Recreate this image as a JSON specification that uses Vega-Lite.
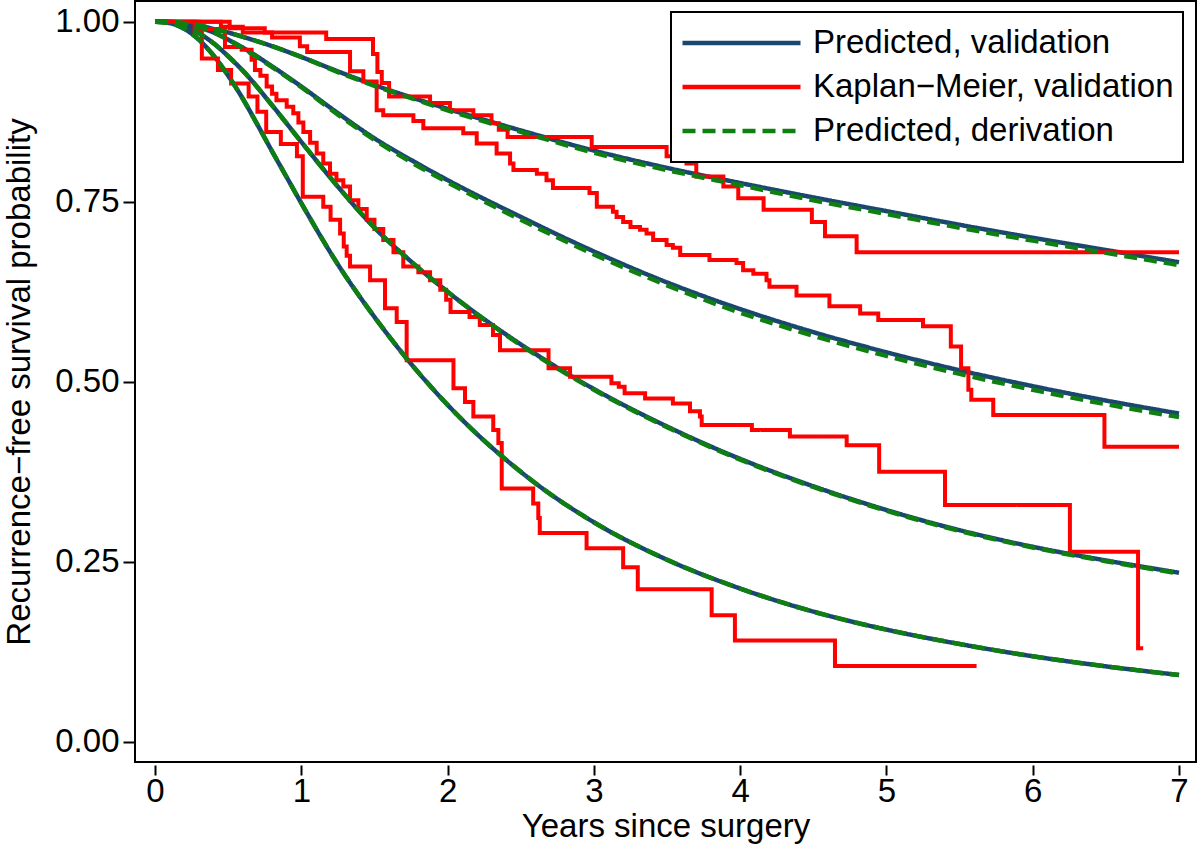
{
  "$schema": "https://vega.github.io/schema/vega-lite/v6.json",
  "width": 1061,
  "height": 761,
  "autosize": {"type": "none"},
  "padding": {"left": 135, "top": 1, "right": 4, "bottom": 85},
  "background": "white",
  "config": {
    "view": {"stroke": "black", "strokeWidth": 2},
    "axis": {"domain": false, "grid": false, "labelFont": "Liberation Sans", "labelFontSize": 33, "labelColor": "black", "tickColor": "black", "tickWidth": 2, "titleFont": "Liberation Sans", "titleFontSize": 33, "titleFontWeight": "normal", "titleColor": "black"}
  },
  "datasets": {
    "pv": [
      {"series": "Predicted, validation", "g": "A", "t": 0, "s": 1}, {"series": "Predicted, validation", "g": "A", "t": 0.1, "s": 1}, {"series": "Predicted, validation", "g": "A", "t": 0.2, "s": 0.998}, {"series": "Predicted, validation", "g": "A", "t": 0.3, "s": 0.995}, {"series": "Predicted, validation", "g": "A", "t": 0.4, "s": 0.99}, {"series": "Predicted, validation", "g": "A", "t": 0.5, "s": 0.985}, {"series": "Predicted, validation", "g": "A", "t": 0.6, "s": 0.979}, {"series": "Predicted, validation", "g": "A", "t": 0.8, "s": 0.966}, {"series": "Predicted, validation", "g": "A", "t": 1.0, "s": 0.951}, {"series": "Predicted, validation", "g": "A", "t": 1.25, "s": 0.931}, {"series": "Predicted, validation", "g": "A", "t": 1.5, "s": 0.912}, {"series": "Predicted, validation", "g": "A", "t": 1.75, "s": 0.895}, {"series": "Predicted, validation", "g": "A", "t": 2.0, "s": 0.879}, {"series": "Predicted, validation", "g": "A", "t": 2.5, "s": 0.849}, {"series": "Predicted, validation", "g": "A", "t": 3.0, "s": 0.821}, {"series": "Predicted, validation", "g": "A", "t": 3.5, "s": 0.797}, {"series": "Predicted, validation", "g": "A", "t": 4.0, "s": 0.776}, {"series": "Predicted, validation", "g": "A", "t": 4.5, "s": 0.756}, {"series": "Predicted, validation", "g": "A", "t": 5.0, "s": 0.737}, {"series": "Predicted, validation", "g": "A", "t": 5.5, "s": 0.718}, {"series": "Predicted, validation", "g": "A", "t": 6.0, "s": 0.7}, {"series": "Predicted, validation", "g": "A", "t": 6.5, "s": 0.683}, {"series": "Predicted, validation", "g": "A", "t": 7.0, "s": 0.666},
      {"series": "Predicted, validation", "g": "B", "t": 0, "s": 1}, {"series": "Predicted, validation", "g": "B", "t": 0.1, "s": 0.9995}, {"series": "Predicted, validation", "g": "B", "t": 0.2, "s": 0.997}, {"series": "Predicted, validation", "g": "B", "t": 0.3, "s": 0.992}, {"series": "Predicted, validation", "g": "B", "t": 0.4, "s": 0.985}, {"series": "Predicted, validation", "g": "B", "t": 0.5, "s": 0.975}, {"series": "Predicted, validation", "g": "B", "t": 0.6, "s": 0.964}, {"series": "Predicted, validation", "g": "B", "t": 0.8, "s": 0.938}, {"series": "Predicted, validation", "g": "B", "t": 1.0, "s": 0.91}, {"series": "Predicted, validation", "g": "B", "t": 1.25, "s": 0.873}, {"series": "Predicted, validation", "g": "B", "t": 1.5, "s": 0.838}, {"series": "Predicted, validation", "g": "B", "t": 1.75, "s": 0.808}, {"series": "Predicted, validation", "g": "B", "t": 2.0, "s": 0.78}, {"series": "Predicted, validation", "g": "B", "t": 2.5, "s": 0.729}, {"series": "Predicted, validation", "g": "B", "t": 3.0, "s": 0.681}, {"series": "Predicted, validation", "g": "B", "t": 3.5, "s": 0.638}, {"series": "Predicted, validation", "g": "B", "t": 4.0, "s": 0.601}, {"series": "Predicted, validation", "g": "B", "t": 4.5, "s": 0.569}, {"series": "Predicted, validation", "g": "B", "t": 5.0, "s": 0.541}, {"series": "Predicted, validation", "g": "B", "t": 5.5, "s": 0.516}, {"series": "Predicted, validation", "g": "B", "t": 6.0, "s": 0.494}, {"series": "Predicted, validation", "g": "B", "t": 6.5, "s": 0.474}, {"series": "Predicted, validation", "g": "B", "t": 7.0, "s": 0.456},
      {"series": "Predicted, validation", "g": "C", "t": 0, "s": 1}, {"series": "Predicted, validation", "g": "C", "t": 0.1, "s": 0.999}, {"series": "Predicted, validation", "g": "C", "t": 0.2, "s": 0.994}, {"series": "Predicted, validation", "g": "C", "t": 0.3, "s": 0.984}, {"series": "Predicted, validation", "g": "C", "t": 0.4, "s": 0.97}, {"series": "Predicted, validation", "g": "C", "t": 0.5, "s": 0.952}, {"series": "Predicted, validation", "g": "C", "t": 0.6, "s": 0.932}, {"series": "Predicted, validation", "g": "C", "t": 0.8, "s": 0.884}, {"series": "Predicted, validation", "g": "C", "t": 1.0, "s": 0.833}, {"series": "Predicted, validation", "g": "C", "t": 1.25, "s": 0.771}, {"series": "Predicted, validation", "g": "C", "t": 1.5, "s": 0.714}, {"series": "Predicted, validation", "g": "C", "t": 1.75, "s": 0.667}, {"series": "Predicted, validation", "g": "C", "t": 2.0, "s": 0.625}, {"series": "Predicted, validation", "g": "C", "t": 2.5, "s": 0.552}, {"series": "Predicted, validation", "g": "C", "t": 3.0, "s": 0.49}, {"series": "Predicted, validation", "g": "C", "t": 3.5, "s": 0.438}, {"series": "Predicted, validation", "g": "C", "t": 4.0, "s": 0.393}, {"series": "Predicted, validation", "g": "C", "t": 4.5, "s": 0.355}, {"series": "Predicted, validation", "g": "C", "t": 5.0, "s": 0.322}, {"series": "Predicted, validation", "g": "C", "t": 5.5, "s": 0.294}, {"series": "Predicted, validation", "g": "C", "t": 6.0, "s": 0.271}, {"series": "Predicted, validation", "g": "C", "t": 6.5, "s": 0.252}, {"series": "Predicted, validation", "g": "C", "t": 7.0, "s": 0.235},
      {"series": "Predicted, validation", "g": "D", "t": 0, "s": 1}, {"series": "Predicted, validation", "g": "D", "t": 0.1, "s": 0.998}, {"series": "Predicted, validation", "g": "D", "t": 0.2, "s": 0.99}, {"series": "Predicted, validation", "g": "D", "t": 0.3, "s": 0.975}, {"series": "Predicted, validation", "g": "D", "t": 0.4, "s": 0.953}, {"series": "Predicted, validation", "g": "D", "t": 0.5, "s": 0.925}, {"series": "Predicted, validation", "g": "D", "t": 0.6, "s": 0.893}, {"series": "Predicted, validation", "g": "D", "t": 0.7, "s": 0.857}, {"series": "Predicted, validation", "g": "D", "t": 0.8, "s": 0.82}, {"series": "Predicted, validation", "g": "D", "t": 0.9, "s": 0.784}, {"series": "Predicted, validation", "g": "D", "t": 1.0, "s": 0.748}, {"series": "Predicted, validation", "g": "D", "t": 1.25, "s": 0.663}, {"series": "Predicted, validation", "g": "D", "t": 1.5, "s": 0.59}, {"series": "Predicted, validation", "g": "D", "t": 1.75, "s": 0.525}, {"series": "Predicted, validation", "g": "D", "t": 2.0, "s": 0.468}, {"series": "Predicted, validation", "g": "D", "t": 2.5, "s": 0.375}, {"series": "Predicted, validation", "g": "D", "t": 3.0, "s": 0.305}, {"series": "Predicted, validation", "g": "D", "t": 3.5, "s": 0.253}, {"series": "Predicted, validation", "g": "D", "t": 4.0, "s": 0.213}, {"series": "Predicted, validation", "g": "D", "t": 4.5, "s": 0.181}, {"series": "Predicted, validation", "g": "D", "t": 5.0, "s": 0.156}, {"series": "Predicted, validation", "g": "D", "t": 5.5, "s": 0.136}, {"series": "Predicted, validation", "g": "D", "t": 6.0, "s": 0.119}, {"series": "Predicted, validation", "g": "D", "t": 6.5, "s": 0.105}, {"series": "Predicted, validation", "g": "D", "t": 7.0, "s": 0.093}
    ],
    "pd": [
      {"series": "Predicted, derivation", "g": "A", "t": 0, "s": 1}, {"series": "Predicted, derivation", "g": "A", "t": 0.1, "s": 1}, {"series": "Predicted, derivation", "g": "A", "t": 0.2, "s": 0.998}, {"series": "Predicted, derivation", "g": "A", "t": 0.3, "s": 0.995}, {"series": "Predicted, derivation", "g": "A", "t": 0.4, "s": 0.99}, {"series": "Predicted, derivation", "g": "A", "t": 0.5, "s": 0.985}, {"series": "Predicted, derivation", "g": "A", "t": 0.6, "s": 0.979}, {"series": "Predicted, derivation", "g": "A", "t": 0.8, "s": 0.966}, {"series": "Predicted, derivation", "g": "A", "t": 1.0, "s": 0.951}, {"series": "Predicted, derivation", "g": "A", "t": 1.25, "s": 0.93}, {"series": "Predicted, derivation", "g": "A", "t": 1.5, "s": 0.911}, {"series": "Predicted, derivation", "g": "A", "t": 1.75, "s": 0.894}, {"series": "Predicted, derivation", "g": "A", "t": 2.0, "s": 0.877}, {"series": "Predicted, derivation", "g": "A", "t": 2.5, "s": 0.847}, {"series": "Predicted, derivation", "g": "A", "t": 3.0, "s": 0.818}, {"series": "Predicted, derivation", "g": "A", "t": 3.5, "s": 0.794}, {"series": "Predicted, derivation", "g": "A", "t": 4.0, "s": 0.773}, {"series": "Predicted, derivation", "g": "A", "t": 4.5, "s": 0.752}, {"series": "Predicted, derivation", "g": "A", "t": 5.0, "s": 0.733}, {"series": "Predicted, derivation", "g": "A", "t": 5.5, "s": 0.714}, {"series": "Predicted, derivation", "g": "A", "t": 6.0, "s": 0.696}, {"series": "Predicted, derivation", "g": "A", "t": 6.5, "s": 0.679}, {"series": "Predicted, derivation", "g": "A", "t": 7.0, "s": 0.662},
      {"series": "Predicted, derivation", "g": "B", "t": 0, "s": 1}, {"series": "Predicted, derivation", "g": "B", "t": 0.1, "s": 0.9995}, {"series": "Predicted, derivation", "g": "B", "t": 0.2, "s": 0.997}, {"series": "Predicted, derivation", "g": "B", "t": 0.3, "s": 0.992}, {"series": "Predicted, derivation", "g": "B", "t": 0.4, "s": 0.985}, {"series": "Predicted, derivation", "g": "B", "t": 0.5, "s": 0.975}, {"series": "Predicted, derivation", "g": "B", "t": 0.6, "s": 0.963}, {"series": "Predicted, derivation", "g": "B", "t": 0.8, "s": 0.937}, {"series": "Predicted, derivation", "g": "B", "t": 1.0, "s": 0.909}, {"series": "Predicted, derivation", "g": "B", "t": 1.25, "s": 0.871}, {"series": "Predicted, derivation", "g": "B", "t": 1.5, "s": 0.836}, {"series": "Predicted, derivation", "g": "B", "t": 1.75, "s": 0.805}, {"series": "Predicted, derivation", "g": "B", "t": 2.0, "s": 0.777}, {"series": "Predicted, derivation", "g": "B", "t": 2.5, "s": 0.725}, {"series": "Predicted, derivation", "g": "B", "t": 3.0, "s": 0.677}, {"series": "Predicted, derivation", "g": "B", "t": 3.5, "s": 0.634}, {"series": "Predicted, derivation", "g": "B", "t": 4.0, "s": 0.596}, {"series": "Predicted, derivation", "g": "B", "t": 4.5, "s": 0.564}, {"series": "Predicted, derivation", "g": "B", "t": 5.0, "s": 0.536}, {"series": "Predicted, derivation", "g": "B", "t": 5.5, "s": 0.511}, {"series": "Predicted, derivation", "g": "B", "t": 6.0, "s": 0.489}, {"series": "Predicted, derivation", "g": "B", "t": 6.5, "s": 0.469}, {"series": "Predicted, derivation", "g": "B", "t": 7.0, "s": 0.451},
      {"series": "Predicted, derivation", "g": "C", "t": 0, "s": 1}, {"series": "Predicted, derivation", "g": "C", "t": 0.1, "s": 0.999}, {"series": "Predicted, derivation", "g": "C", "t": 0.2, "s": 0.994}, {"series": "Predicted, derivation", "g": "C", "t": 0.3, "s": 0.984}, {"series": "Predicted, derivation", "g": "C", "t": 0.4, "s": 0.97}, {"series": "Predicted, derivation", "g": "C", "t": 0.5, "s": 0.952}, {"series": "Predicted, derivation", "g": "C", "t": 0.6, "s": 0.932}, {"series": "Predicted, derivation", "g": "C", "t": 0.8, "s": 0.884}, {"series": "Predicted, derivation", "g": "C", "t": 1.0, "s": 0.833}, {"series": "Predicted, derivation", "g": "C", "t": 1.25, "s": 0.771}, {"series": "Predicted, derivation", "g": "C", "t": 1.5, "s": 0.714}, {"series": "Predicted, derivation", "g": "C", "t": 1.75, "s": 0.667}, {"series": "Predicted, derivation", "g": "C", "t": 2.0, "s": 0.625}, {"series": "Predicted, derivation", "g": "C", "t": 2.5, "s": 0.551}, {"series": "Predicted, derivation", "g": "C", "t": 3.0, "s": 0.489}, {"series": "Predicted, derivation", "g": "C", "t": 3.5, "s": 0.437}, {"series": "Predicted, derivation", "g": "C", "t": 4.0, "s": 0.392}, {"series": "Predicted, derivation", "g": "C", "t": 4.5, "s": 0.354}, {"series": "Predicted, derivation", "g": "C", "t": 5.0, "s": 0.321}, {"series": "Predicted, derivation", "g": "C", "t": 5.5, "s": 0.293}, {"series": "Predicted, derivation", "g": "C", "t": 6.0, "s": 0.27}, {"series": "Predicted, derivation", "g": "C", "t": 6.5, "s": 0.251}, {"series": "Predicted, derivation", "g": "C", "t": 7.0, "s": 0.234},
      {"series": "Predicted, derivation", "g": "D", "t": 0, "s": 1}, {"series": "Predicted, derivation", "g": "D", "t": 0.1, "s": 0.998}, {"series": "Predicted, derivation", "g": "D", "t": 0.2, "s": 0.99}, {"series": "Predicted, derivation", "g": "D", "t": 0.3, "s": 0.975}, {"series": "Predicted, derivation", "g": "D", "t": 0.4, "s": 0.953}, {"series": "Predicted, derivation", "g": "D", "t": 0.5, "s": 0.925}, {"series": "Predicted, derivation", "g": "D", "t": 0.6, "s": 0.893}, {"series": "Predicted, derivation", "g": "D", "t": 0.7, "s": 0.857}, {"series": "Predicted, derivation", "g": "D", "t": 0.8, "s": 0.82}, {"series": "Predicted, derivation", "g": "D", "t": 0.9, "s": 0.784}, {"series": "Predicted, derivation", "g": "D", "t": 1.0, "s": 0.748}, {"series": "Predicted, derivation", "g": "D", "t": 1.25, "s": 0.663}, {"series": "Predicted, derivation", "g": "D", "t": 1.5, "s": 0.59}, {"series": "Predicted, derivation", "g": "D", "t": 1.75, "s": 0.525}, {"series": "Predicted, derivation", "g": "D", "t": 2.0, "s": 0.468}, {"series": "Predicted, derivation", "g": "D", "t": 2.5, "s": 0.375}, {"series": "Predicted, derivation", "g": "D", "t": 3.0, "s": 0.305}, {"series": "Predicted, derivation", "g": "D", "t": 3.5, "s": 0.253}, {"series": "Predicted, derivation", "g": "D", "t": 4.0, "s": 0.213}, {"series": "Predicted, derivation", "g": "D", "t": 4.5, "s": 0.181}, {"series": "Predicted, derivation", "g": "D", "t": 5.0, "s": 0.156}, {"series": "Predicted, derivation", "g": "D", "t": 5.5, "s": 0.136}, {"series": "Predicted, derivation", "g": "D", "t": 6.0, "s": 0.119}, {"series": "Predicted, derivation", "g": "D", "t": 6.5, "s": 0.105}, {"series": "Predicted, derivation", "g": "D", "t": 7.0, "s": 0.093}
    ],
    "km": [
      {"series": "Kaplan−Meier, validation", "g": "1", "t": 0, "s": 1}, {"series": "Kaplan−Meier, validation", "g": "1", "t": 0.51, "s": 0.991}, {"series": "Kaplan−Meier, validation", "g": "1", "t": 0.75, "s": 0.985}, {"series": "Kaplan−Meier, validation", "g": "1", "t": 1.17, "s": 0.976}, {"series": "Kaplan−Meier, validation", "g": "1", "t": 1.49, "s": 0.955}, {"series": "Kaplan−Meier, validation", "g": "1", "t": 1.52, "s": 0.93}, {"series": "Kaplan−Meier, validation", "g": "1", "t": 1.55, "s": 0.915}, {"series": "Kaplan−Meier, validation", "g": "1", "t": 1.6, "s": 0.896}, {"series": "Kaplan−Meier, validation", "g": "1", "t": 1.88, "s": 0.887}, {"series": "Kaplan−Meier, validation", "g": "1", "t": 2.016, "s": 0.877}, {"series": "Kaplan−Meier, validation", "g": "1", "t": 2.176, "s": 0.87}, {"series": "Kaplan−Meier, validation", "g": "1", "t": 2.3, "s": 0.859}, {"series": "Kaplan−Meier, validation", "g": "1", "t": 2.35, "s": 0.85}, {"series": "Kaplan−Meier, validation", "g": "1", "t": 2.41, "s": 0.84}, {"series": "Kaplan−Meier, validation", "g": "1", "t": 2.985, "s": 0.826}, {"series": "Kaplan−Meier, validation", "g": "1", "t": 3.497, "s": 0.813}, {"series": "Kaplan−Meier, validation", "g": "1", "t": 3.633, "s": 0.803}, {"series": "Kaplan−Meier, validation", "g": "1", "t": 3.7, "s": 0.785}, {"series": "Kaplan−Meier, validation", "g": "1", "t": 3.885, "s": 0.771}, {"series": "Kaplan−Meier, validation", "g": "1", "t": 3.987, "s": 0.755}, {"series": "Kaplan−Meier, validation", "g": "1", "t": 4.16, "s": 0.739}, {"series": "Kaplan−Meier, validation", "g": "1", "t": 4.49, "s": 0.722}, {"series": "Kaplan−Meier, validation", "g": "1", "t": 4.58, "s": 0.702}, {"series": "Kaplan−Meier, validation", "g": "1", "t": 4.796, "s": 0.68}, {"series": "Kaplan−Meier, validation", "g": "1", "t": 7.0, "s": 0.68},
      {"series": "Kaplan−Meier, validation", "g": "2", "t": 0, "s": 1}, {"series": "Kaplan−Meier, validation", "g": "2", "t": 0.45, "s": 0.993}, {"series": "Kaplan−Meier, validation", "g": "2", "t": 0.6, "s": 0.985}, {"series": "Kaplan−Meier, validation", "g": "2", "t": 0.8, "s": 0.978}, {"series": "Kaplan−Meier, validation", "g": "2", "t": 0.99, "s": 0.966}, {"series": "Kaplan−Meier, validation", "g": "2", "t": 1.04, "s": 0.958}, {"series": "Kaplan−Meier, validation", "g": "2", "t": 1.333, "s": 0.931}, {"series": "Kaplan−Meier, validation", "g": "2", "t": 1.424, "s": 0.917}, {"series": "Kaplan−Meier, validation", "g": "2", "t": 1.515, "s": 0.877}, {"series": "Kaplan−Meier, validation", "g": "2", "t": 1.56, "s": 0.87}, {"series": "Kaplan−Meier, validation", "g": "2", "t": 1.766, "s": 0.862}, {"series": "Kaplan−Meier, validation", "g": "2", "t": 1.834, "s": 0.852}, {"series": "Kaplan−Meier, validation", "g": "2", "t": 2.107, "s": 0.845}, {"series": "Kaplan−Meier, validation", "g": "2", "t": 2.199, "s": 0.831}, {"series": "Kaplan−Meier, validation", "g": "2", "t": 2.335, "s": 0.817}, {"series": "Kaplan−Meier, validation", "g": "2", "t": 2.427, "s": 0.803}, {"series": "Kaplan−Meier, validation", "g": "2", "t": 2.45, "s": 0.794}, {"series": "Kaplan−Meier, validation", "g": "2", "t": 2.61, "s": 0.789}, {"series": "Kaplan−Meier, validation", "g": "2", "t": 2.676, "s": 0.78}, {"series": "Kaplan−Meier, validation", "g": "2", "t": 2.72, "s": 0.769}, {"series": "Kaplan−Meier, validation", "g": "2", "t": 2.97, "s": 0.762}, {"series": "Kaplan−Meier, validation", "g": "2", "t": 3.02, "s": 0.743}, {"series": "Kaplan−Meier, validation", "g": "2", "t": 3.13, "s": 0.736}, {"series": "Kaplan−Meier, validation", "g": "2", "t": 3.155, "s": 0.729}, {"series": "Kaplan−Meier, validation", "g": "2", "t": 3.2, "s": 0.722}, {"series": "Kaplan−Meier, validation", "g": "2", "t": 3.25, "s": 0.715}, {"series": "Kaplan−Meier, validation", "g": "2", "t": 3.315, "s": 0.711}, {"series": "Kaplan−Meier, validation", "g": "2", "t": 3.36, "s": 0.706}, {"series": "Kaplan−Meier, validation", "g": "2", "t": 3.405, "s": 0.697}, {"series": "Kaplan−Meier, validation", "g": "2", "t": 3.497, "s": 0.69}, {"series": "Kaplan−Meier, validation", "g": "2", "t": 3.54, "s": 0.686}, {"series": "Kaplan−Meier, validation", "g": "2", "t": 3.59, "s": 0.676}, {"series": "Kaplan−Meier, validation", "g": "2", "t": 3.79, "s": 0.669}, {"series": "Kaplan−Meier, validation", "g": "2", "t": 3.975, "s": 0.665}, {"series": "Kaplan−Meier, validation", "g": "2", "t": 4.02, "s": 0.655}, {"series": "Kaplan−Meier, validation", "g": "2", "t": 4.09, "s": 0.65}, {"series": "Kaplan−Meier, validation", "g": "2", "t": 4.18, "s": 0.641}, {"series": "Kaplan−Meier, validation", "g": "2", "t": 4.2, "s": 0.632}, {"series": "Kaplan−Meier, validation", "g": "2", "t": 4.385, "s": 0.62}, {"series": "Kaplan−Meier, validation", "g": "2", "t": 4.61, "s": 0.605}, {"series": "Kaplan−Meier, validation", "g": "2", "t": 4.82, "s": 0.595}, {"series": "Kaplan−Meier, validation", "g": "2", "t": 4.944, "s": 0.586}, {"series": "Kaplan−Meier, validation", "g": "2", "t": 5.25, "s": 0.577}, {"series": "Kaplan−Meier, validation", "g": "2", "t": 5.44, "s": 0.549}, {"series": "Kaplan−Meier, validation", "g": "2", "t": 5.51, "s": 0.519}, {"series": "Kaplan−Meier, validation", "g": "2", "t": 5.56, "s": 0.489}, {"series": "Kaplan−Meier, validation", "g": "2", "t": 5.58, "s": 0.475}, {"series": "Kaplan−Meier, validation", "g": "2", "t": 5.73, "s": 0.454}, {"series": "Kaplan−Meier, validation", "g": "2", "t": 6.49, "s": 0.41}, {"series": "Kaplan−Meier, validation", "g": "2", "t": 7.0, "s": 0.41},
      {"series": "Kaplan−Meier, validation", "g": "3", "t": 0, "s": 1}, {"series": "Kaplan−Meier, validation", "g": "3", "t": 0.3, "s": 0.99}, {"series": "Kaplan−Meier, validation", "g": "3", "t": 0.478, "s": 0.965}, {"series": "Kaplan−Meier, validation", "g": "3", "t": 0.592, "s": 0.961}, {"series": "Kaplan−Meier, validation", "g": "3", "t": 0.66, "s": 0.947}, {"series": "Kaplan−Meier, validation", "g": "3", "t": 0.683, "s": 0.933}, {"series": "Kaplan−Meier, validation", "g": "3", "t": 0.72, "s": 0.925}, {"series": "Kaplan−Meier, validation", "g": "3", "t": 0.763, "s": 0.91}, {"series": "Kaplan−Meier, validation", "g": "3", "t": 0.8, "s": 0.9}, {"series": "Kaplan−Meier, validation", "g": "3", "t": 0.83, "s": 0.891}, {"series": "Kaplan−Meier, validation", "g": "3", "t": 0.9, "s": 0.882}, {"series": "Kaplan−Meier, validation", "g": "3", "t": 0.945, "s": 0.873}, {"series": "Kaplan−Meier, validation", "g": "3", "t": 0.98, "s": 0.86}, {"series": "Kaplan−Meier, validation", "g": "3", "t": 1.014, "s": 0.847}, {"series": "Kaplan−Meier, validation", "g": "3", "t": 1.06, "s": 0.832}, {"series": "Kaplan−Meier, validation", "g": "3", "t": 1.105, "s": 0.817}, {"series": "Kaplan−Meier, validation", "g": "3", "t": 1.15, "s": 0.803}, {"series": "Kaplan−Meier, validation", "g": "3", "t": 1.196, "s": 0.789}, {"series": "Kaplan−Meier, validation", "g": "3", "t": 1.24, "s": 0.78}, {"series": "Kaplan−Meier, validation", "g": "3", "t": 1.287, "s": 0.771}, {"series": "Kaplan−Meier, validation", "g": "3", "t": 1.333, "s": 0.752}, {"series": "Kaplan−Meier, validation", "g": "3", "t": 1.39, "s": 0.74}, {"series": "Kaplan−Meier, validation", "g": "3", "t": 1.447, "s": 0.725}, {"series": "Kaplan−Meier, validation", "g": "3", "t": 1.5, "s": 0.712}, {"series": "Kaplan−Meier, validation", "g": "3", "t": 1.56, "s": 0.697}, {"series": "Kaplan−Meier, validation", "g": "3", "t": 1.63, "s": 0.68}, {"series": "Kaplan−Meier, validation", "g": "3", "t": 1.697, "s": 0.66}, {"series": "Kaplan−Meier, validation", "g": "3", "t": 1.8, "s": 0.652}, {"series": "Kaplan−Meier, validation", "g": "3", "t": 1.88, "s": 0.641}, {"series": "Kaplan−Meier, validation", "g": "3", "t": 1.95, "s": 0.628}, {"series": "Kaplan−Meier, validation", "g": "3", "t": 1.99, "s": 0.614}, {"series": "Kaplan−Meier, validation", "g": "3", "t": 2.02, "s": 0.597}, {"series": "Kaplan−Meier, validation", "g": "3", "t": 2.15, "s": 0.59}, {"series": "Kaplan−Meier, validation", "g": "3", "t": 2.22, "s": 0.579}, {"series": "Kaplan−Meier, validation", "g": "3", "t": 2.31, "s": 0.565}, {"series": "Kaplan−Meier, validation", "g": "3", "t": 2.358, "s": 0.544}, {"series": "Kaplan−Meier, validation", "g": "3", "t": 2.69, "s": 0.519}, {"series": "Kaplan−Meier, validation", "g": "3", "t": 2.837, "s": 0.507}, {"series": "Kaplan−Meier, validation", "g": "3", "t": 3.12, "s": 0.498}, {"series": "Kaplan−Meier, validation", "g": "3", "t": 3.17, "s": 0.493}, {"series": "Kaplan−Meier, validation", "g": "3", "t": 3.21, "s": 0.484}, {"series": "Kaplan−Meier, validation", "g": "3", "t": 3.35, "s": 0.477}, {"series": "Kaplan−Meier, validation", "g": "3", "t": 3.54, "s": 0.47}, {"series": "Kaplan−Meier, validation", "g": "3", "t": 3.657, "s": 0.459}, {"series": "Kaplan−Meier, validation", "g": "3", "t": 3.725, "s": 0.452}, {"series": "Kaplan−Meier, validation", "g": "3", "t": 3.737, "s": 0.44}, {"series": "Kaplan−Meier, validation", "g": "3", "t": 4.08, "s": 0.433}, {"series": "Kaplan−Meier, validation", "g": "3", "t": 4.34, "s": 0.424}, {"series": "Kaplan−Meier, validation", "g": "3", "t": 4.728, "s": 0.412}, {"series": "Kaplan−Meier, validation", "g": "3", "t": 4.95, "s": 0.375}, {"series": "Kaplan−Meier, validation", "g": "3", "t": 5.4, "s": 0.329}, {"series": "Kaplan−Meier, validation", "g": "3", "t": 6.254, "s": 0.264}, {"series": "Kaplan−Meier, validation", "g": "3", "t": 6.72, "s": 0.13}, {"series": "Kaplan−Meier, validation", "g": "3", "t": 6.755, "s": 0.13},
      {"series": "Kaplan−Meier, validation", "g": "4", "t": 0, "s": 1}, {"series": "Kaplan−Meier, validation", "g": "4", "t": 0.27, "s": 0.985}, {"series": "Kaplan−Meier, validation", "g": "4", "t": 0.32, "s": 0.949}, {"series": "Kaplan−Meier, validation", "g": "4", "t": 0.43, "s": 0.933}, {"series": "Kaplan−Meier, validation", "g": "4", "t": 0.52, "s": 0.914}, {"series": "Kaplan−Meier, validation", "g": "4", "t": 0.64, "s": 0.896}, {"series": "Kaplan−Meier, validation", "g": "4", "t": 0.7, "s": 0.875}, {"series": "Kaplan−Meier, validation", "g": "4", "t": 0.76, "s": 0.847}, {"series": "Kaplan−Meier, validation", "g": "4", "t": 0.86, "s": 0.83}, {"series": "Kaplan−Meier, validation", "g": "4", "t": 0.97, "s": 0.813}, {"series": "Kaplan−Meier, validation", "g": "4", "t": 1.01, "s": 0.757}, {"series": "Kaplan−Meier, validation", "g": "4", "t": 1.15, "s": 0.743}, {"series": "Kaplan−Meier, validation", "g": "4", "t": 1.2, "s": 0.725}, {"series": "Kaplan−Meier, validation", "g": "4", "t": 1.265, "s": 0.706}, {"series": "Kaplan−Meier, validation", "g": "4", "t": 1.29, "s": 0.688}, {"series": "Kaplan−Meier, validation", "g": "4", "t": 1.31, "s": 0.675}, {"series": "Kaplan−Meier, validation", "g": "4", "t": 1.333, "s": 0.66}, {"series": "Kaplan−Meier, validation", "g": "4", "t": 1.47, "s": 0.641}, {"series": "Kaplan−Meier, validation", "g": "4", "t": 1.572, "s": 0.602}, {"series": "Kaplan−Meier, validation", "g": "4", "t": 1.652, "s": 0.583}, {"series": "Kaplan−Meier, validation", "g": "4", "t": 1.72, "s": 0.53}, {"series": "Kaplan−Meier, validation", "g": "4", "t": 2.04, "s": 0.491}, {"series": "Kaplan−Meier, validation", "g": "4", "t": 2.119, "s": 0.472}, {"series": "Kaplan−Meier, validation", "g": "4", "t": 2.176, "s": 0.452}, {"series": "Kaplan−Meier, validation", "g": "4", "t": 2.312, "s": 0.433}, {"series": "Kaplan−Meier, validation", "g": "4", "t": 2.347, "s": 0.415}, {"series": "Kaplan−Meier, validation", "g": "4", "t": 2.37, "s": 0.352}, {"series": "Kaplan−Meier, validation", "g": "4", "t": 2.585, "s": 0.331}, {"series": "Kaplan−Meier, validation", "g": "4", "t": 2.62, "s": 0.311}, {"series": "Kaplan−Meier, validation", "g": "4", "t": 2.63, "s": 0.29}, {"series": "Kaplan−Meier, validation", "g": "4", "t": 2.95, "s": 0.269}, {"series": "Kaplan−Meier, validation", "g": "4", "t": 3.2, "s": 0.2425}, {"series": "Kaplan−Meier, validation", "g": "4", "t": 3.3, "s": 0.212}, {"series": "Kaplan−Meier, validation", "g": "4", "t": 3.805, "s": 0.176}, {"series": "Kaplan−Meier, validation", "g": "4", "t": 3.964, "s": 0.141}, {"series": "Kaplan−Meier, validation", "g": "4", "t": 4.648, "s": 0.1055}, {"series": "Kaplan−Meier, validation", "g": "4", "t": 5.616, "s": 0.1055}
    ]
  },
  "encoding": {
    "x": {"field": "t", "type": "quantitative", "scale": {"domain": [-0.137, 7.116], "nice": false, "zero": false},
      "axis": {"values": [0, 1, 2, 3, 4, 5, 6, 7], "format": "d", "title": "Years since surgery", "tickSize": 10, "offset": 3, "labelPadding": 0, "titlePadding": 2}},
    "y": {"field": "s", "type": "quantitative", "scale": {"domain": [-0.0278, 1.0287], "nice": false, "zero": false},
      "axis": {"values": [0, 0.25, 0.5, 0.75, 1], "format": ".2f", "title": "Recurrence−free survival probability", "tickSize": 12, "labelPadding": 4, "titlePadding": 18}},
    "color": {"field": "series", "type": "nominal",
      "scale": {"domain": ["Predicted, validation", "Kaplan−Meier, validation", "Predicted, derivation"], "range": ["#1a476f", "#ff0000", "#0f7f12"]},
      "legend": {"title": null, "orient": "none", "legendX": 536, "legendY": 11, "symbolType": "stroke", "symbolSize": 13924, "symbolStrokeWidth": 4.5, "labelFont": "Liberation Sans", "labelFontSize": 33, "labelColor": "black", "labelOffset": 10, "labelLimit": 600, "clipHeight": 44, "rowPadding": 0, "padding": 9, "fillColor": "white", "strokeColor": "black", "direction": "vertical",
        "encode": {"legend": {"update": {"strokeWidth": {"value": 2}}}}}},
    "strokeDash": {"field": "series", "type": "nominal",
      "scale": {"domain": ["Predicted, validation", "Kaplan−Meier, validation", "Predicted, derivation"], "range": [[1, 0], [1, 0], [13, 7]]},
      "legend": {"title": null, "orient": "none", "legendX": 536, "legendY": 11, "symbolType": "stroke", "symbolSize": 13924, "symbolStrokeWidth": 4.5, "labelFont": "Liberation Sans", "labelFontSize": 33, "labelColor": "black", "labelOffset": 10, "labelLimit": 600, "clipHeight": 44, "rowPadding": 0, "padding": 9, "fillColor": "white", "strokeColor": "black", "direction": "vertical",
        "encode": {"legend": {"update": {"strokeWidth": {"value": 2}}}}}},
    "detail": {"field": "g", "type": "nominal"}
  },
  "layer": [
    {"data": {"name": "pv"}, "mark": {"type": "line", "interpolate": "monotone", "strokeWidth": 4.5}},
    {"data": {"name": "km"}, "mark": {"type": "line", "interpolate": "step-after", "strokeWidth": 4}},
    {"data": {"name": "pd"}, "mark": {"type": "line", "interpolate": "monotone", "strokeWidth": 4.5}}
  ]
}
